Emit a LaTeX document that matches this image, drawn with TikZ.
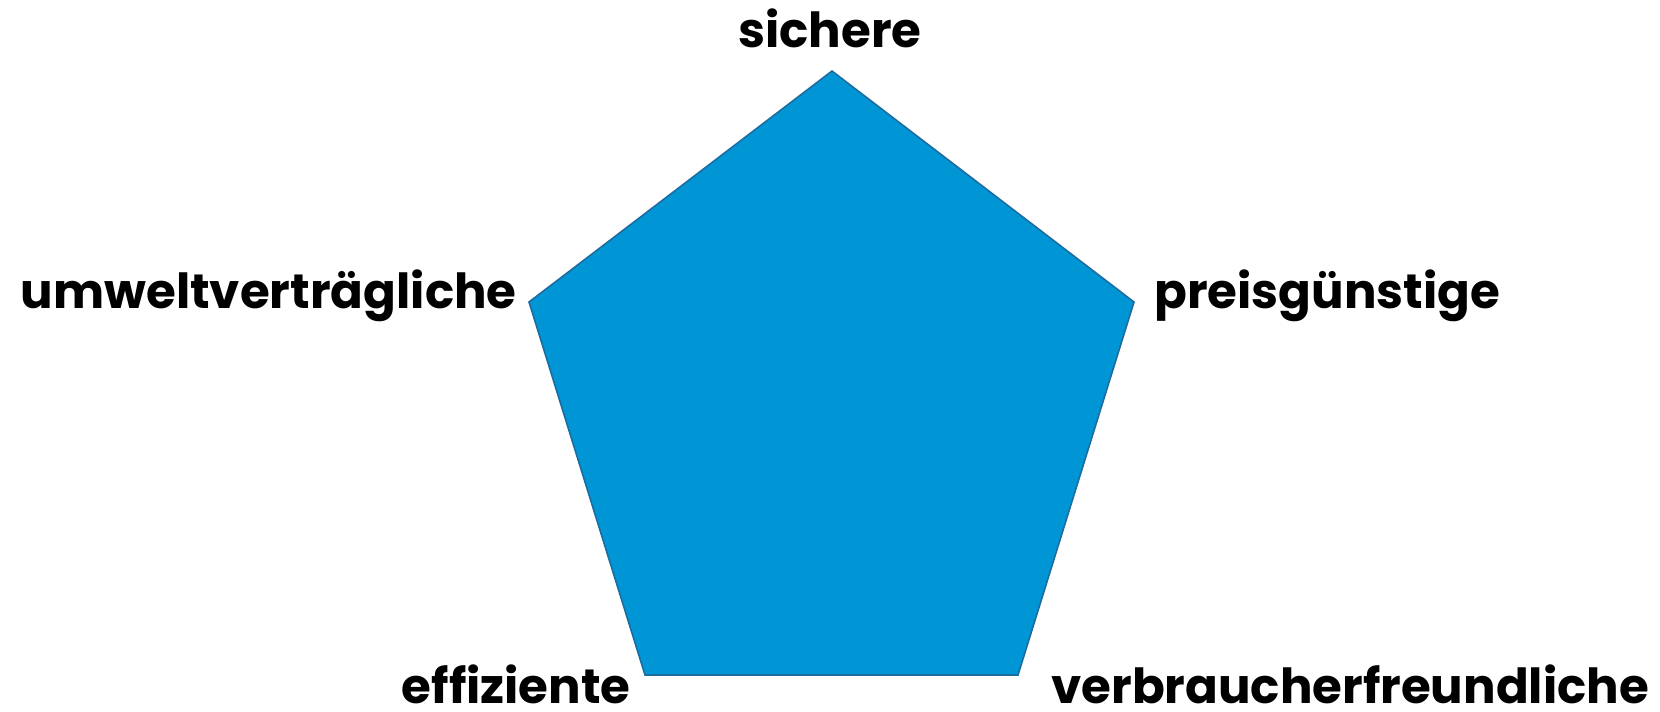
\documentclass[tikz,border=0pt]{standalone}
\usepackage{fontspec}
\setmainfont{Poppins}[BoldFont=* Bold]
\usetikzlibrary{positioning}
\definecolor{pentablue}{RGB}{0,150,214}
\definecolor{pentaedge}{RGB}{28,108,160}

\begin{document}
\begin{tikzpicture}[x=0.02cm,y=-0.02cm,
  penta/.style={fill=pentablue,draw=pentaedge,line width=0.9pt,line join=miter},
  lbl/.style={font=\fontsize{27.5}{33}\selectfont\bfseries,inner sep=0pt}]
\useasboundingbox (0,0) rectangle (1660,711);
% Eckpunkte
\coordinate (top) at (832,71);
\coordinate (right) at (1134,302);
\coordinate (br) at (1018,675);
\coordinate (bl) at (645,675);
\coordinate (left) at (529,302);
\draw[penta] (top) -- (right) -- (br) -- (bl) -- (left) -- cycle;
% Beschriftungen
\node[lbl,anchor=base] (sichere) at (830,47) {sichere};
\node[lbl,anchor=base east] (umwelt) at (517,308) {umweltverträgliche};
\node[lbl,anchor=base west] (preis) at (1154,308) {preisgünstige};
\node[lbl,anchor=base east] (effizient) at (631,703) {effiziente};
\node[lbl,anchor=base west] (verbraucher) at (1051,703) {verbraucherfreundliche};
\end{tikzpicture}
\end{document}
